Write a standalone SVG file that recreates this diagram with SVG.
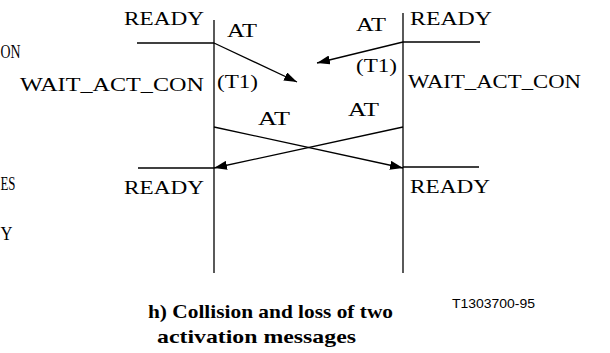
<svg xmlns="http://www.w3.org/2000/svg" width="610" height="353" viewBox="0 0 610 353">
<style>
.t{font-family:"Liberation Serif","Times New Roman",serif;font-size:18.5px;fill:#000}
.b{font-family:"Liberation Serif","Times New Roman",serif;font-size:19px;font-weight:bold;fill:#000}
.s{font-family:"Liberation Sans",Arial,sans-serif;font-size:13px;fill:#000}
.ln{stroke:#000;stroke-width:1.3;fill:none}
.ar{stroke:#000;stroke-width:1.3;fill:none;marker-end:url(#ah)}
</style>
<defs>
<marker id="ah" markerUnits="userSpaceOnUse" markerWidth="13" markerHeight="9" refX="13" refY="4.5" orient="auto">
<path d="M0,0 L13,4.5 L0,9 z" fill="#000"/>
</marker>
</defs>
<g id="cut-off-texts">
<text class="t" x="0.5" y="58" textLength="20" lengthAdjust="spacingAndGlyphs">ON</text>
<text class="t" x="0.5" y="190" textLength="15" lengthAdjust="spacingAndGlyphs">ES</text>
<text class="t" x="0.5" y="240" textLength="12" lengthAdjust="spacingAndGlyphs">Y</text>
</g>
<g id="left-station">
<line class="ln" x1="214" y1="20" x2="214" y2="273"/>
<line class="ln" x1="137" y1="43" x2="214" y2="43"/>
<line class="ln" x1="138" y1="168" x2="214" y2="168"/>
<text class="t" x="124" y="25" textLength="80" lengthAdjust="spacingAndGlyphs">READY</text>
<text class="t" x="20" y="91" textLength="184" lengthAdjust="spacingAndGlyphs">WAIT_ACT_CON</text>
<text class="t" x="124" y="194" textLength="80" lengthAdjust="spacingAndGlyphs">READY</text>
</g>
<g id="right-station">
<line class="ln" x1="403" y1="13" x2="403" y2="273"/>
<line class="ln" x1="403" y1="42" x2="480" y2="42"/>
<line class="ln" x1="403" y1="167" x2="479" y2="167"/>
<text class="t" x="410" y="25" textLength="82" lengthAdjust="spacingAndGlyphs">READY</text>
<text class="t" x="408" y="88" textLength="173" lengthAdjust="spacingAndGlyphs">WAIT_ACT_CON</text>
<text class="t" x="410" y="193" textLength="80" lengthAdjust="spacingAndGlyphs">READY</text>
</g>
<g id="connectors">
<line class="ar" x1="214" y1="43" x2="297" y2="82"/>
<line class="ar" x1="403" y1="42" x2="317" y2="63"/>
<line class="ar" x1="214" y1="127" x2="403" y2="168"/>
<line class="ar" x1="403" y1="127" x2="214" y2="168"/>
</g>
<g id="connector-labels">
<text class="t" x="227" y="37" textLength="30" lengthAdjust="spacingAndGlyphs">AT</text>
<text class="t" x="217" y="88" textLength="41" lengthAdjust="spacingAndGlyphs">(T1)</text>
<text class="t" x="356" y="31" textLength="30" lengthAdjust="spacingAndGlyphs">AT</text>
<text class="t" x="356" y="72" textLength="41" lengthAdjust="spacingAndGlyphs">(T1)</text>
<text class="t" x="258" y="125" textLength="32" lengthAdjust="spacingAndGlyphs">AT</text>
<text class="t" x="348" y="116" textLength="31" lengthAdjust="spacingAndGlyphs">AT</text>
</g>
<g id="caption">
<text class="b" x="148" y="318" textLength="245" lengthAdjust="spacingAndGlyphs">h) Collision and loss of two</text>
<text class="b" x="157" y="343" textLength="199" lengthAdjust="spacingAndGlyphs">activation messages</text>
<text class="s" x="452" y="308" textLength="83" lengthAdjust="spacingAndGlyphs">T1303700-95</text>
</g>
</svg>
